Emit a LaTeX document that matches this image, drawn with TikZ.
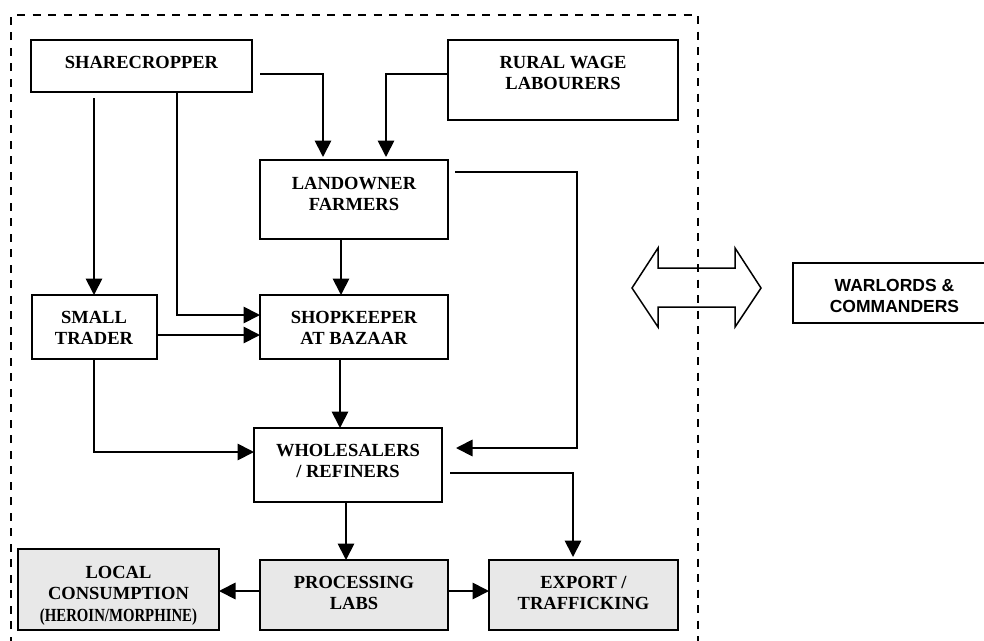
\documentclass[tikz,border=0pt]{standalone}
\usepackage{fontspec}
\usepackage{graphicx}
\setmainfont{Liberation Serif}
\newfontfamily\warfont{Liberation Sans}
\usetikzlibrary{calc,arrows.meta}
\definecolor{boxgray}{RGB}{232,232,232}
\tikzset{
  box/.style={draw, line width=2pt, inner sep=0pt, outer sep=0pt},
  graybox/.style={box, fill=boxgray},
  txt/.style={inner sep=0pt, outer sep=0pt, align=center, anchor=north,
    font=\fontsize{18.5}{21.5}\selectfont\bfseries},
  arr/.style={line width=1.8pt, -{Triangle[length=16.5pt,width=16.5pt]}},
  border/.style={dashed, line width=1.8pt, dash pattern=on 8pt off 7.5pt}
}
\begin{document}
\begin{tikzpicture}[x=1pt,y=-1pt]
\useasboundingbox (0,0) rectangle (984,640);
\clip (0,0) rectangle (984,640);

% dashed frame
\draw[border] (11,660) -- (11,15) -- (698,15) -- (698,660);

% boxes
\node[box, minimum width=221pt, minimum height=52pt] (share) at (141.5,66) {};
\node[box, minimum width=230pt, minimum height=80pt] (rural) at (563,80) {};
\node[box, minimum width=188pt, minimum height=79pt] (land) at (354,199.5) {};
\node[box, minimum width=125pt, minimum height=64pt] (small) at (94,327) {};
\node[box, minimum width=188pt, minimum height=64pt] (shop) at (354,327) {};
\node[box, minimum width=188pt, minimum height=74pt] (whole) at (348,465) {};
\node[graybox, minimum width=201pt, minimum height=81pt] (local) at (118.5,589.5) {};
\node[graybox, minimum width=188pt, minimum height=70pt] (proc) at (354,595) {};
\node[graybox, minimum width=189pt, minimum height=70pt] (export) at (583.5,595) {};
\node[box, minimum width=203pt, minimum height=60pt] (war) at (894.5,293) {};

% texts
\node[txt] (tshare) at ($(share.north)+(0,16)$) {SHARECROPPER};
\node[txt] (trural) at ($(rural.north)+(0,16)$) {RURAL WAGE\\LABOURERS};
\node[txt] (tland) at ($(land.north)+(0,17)$) {LANDOWNER\\FARMERS};
\node[txt] (tsmall) at ($(small.north)+(0,16)$) {SMALL\\TRADER};
\node[txt] (tshop) at ($(shop.north)+(0,16)$) {SHOPKEEPER\\AT BAZAAR};
\node[txt] (twhole) at ($(whole.north)+(0,16)$) {WHOLESALERS\\/ REFINERS};
\node[txt] (tlocal) at ($(local.north)+(0,17)$) {LOCAL\\CONSUMPTION\\\scalebox{0.8}[1]{(HEROIN/MORPHINE)}};
\node[txt] (tproc) at ($(proc.north)+(0,16)$) {PROCESSING\\LABS};
\node[txt] (texport) at ($(export.north)+(0,16)$) {EXPORT /\\TRAFFICKING};
\node[txt, font=\fontsize{17.5}{21}\selectfont\warfont\bfseries] (twar) at ($(war.north)+(0,16)$) {WARLORDS \&\\COMMANDERS};

% double arrow
\draw[line width=1.5pt, line join=miter] (632,288) -- (658,248) -- (658,268) -- (735,268) -- (735,248) -- (761,288)
  -- (735,327) -- (735,307) -- (658,307) -- (658,327) -- cycle;

% connectors
\draw[arr] ($(share.east)+(8,8)$) -| ($(land.north)+(-31,-3)$);
\draw[arr] ($(rural.west)+(0,-6)$) -| ($(land.north)+(32,-3)$);
\draw[arr] ($(share.south -| small.north)+(0,6)$) -- (small.north);
\draw[arr] ($(share.south)+(35.5,0)$) |- ($(shop.west)+(0,-12)$);
\draw[arr] ($(small.east)+(0,8)$) -- ($(shop.west)+(0,8)$);
\draw[arr] ($(land.south)+(-13,0)$) -- ($(shop.north)+(-13,0)$);
\draw[arr] ($(shop.south)+(-14,0)$) -- ($(whole.north)+(-8,0)$);
\draw[arr] (small.south) |- ($(whole.west)+(0,-13)$);
\draw[arr] ($(land.east)+(7,-27.5)$) -- ++(122,0) |- ($(whole.east)+(14,-17)$);
\draw[arr] ($(whole.east)+(8,8)$) -| ($(export.north)+(-10.5,-3)$);
\draw[arr] ($(whole.south)+(-2,0)$) -- ($(proc.north)+(-8,0)$);
\draw[arr] ($(proc.west)+(0,-4)$) coordinate (p1) -- (p1 -| local.east);
\draw[arr] ($(proc.east)+(0,-4)$) coordinate (p2) -- (p2 -| export.west);
\end{tikzpicture}
\end{document}
